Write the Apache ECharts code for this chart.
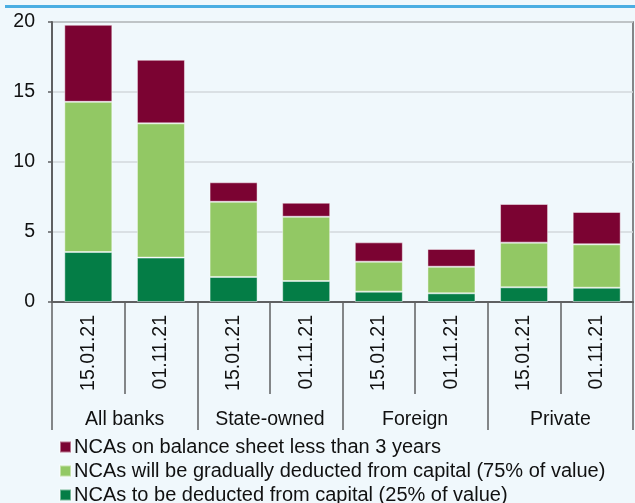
<!DOCTYPE html>
<html>
<head>
<meta charset="utf-8">
<script src="https://cdn.jsdelivr.net/npm/echarts@6/dist/echarts.min.js"></script>
<style>
  html, body { margin: 0; padding: 0; background: #F0F8FC; }
  #chart { width: 635px; height: 503px; }
</style>
</head>
<body>
<div id="chart"></div>
<script>
// Net capital adjustments (NCAs) by bank group, two reporting dates
const dates = ['15.01.21', '01.11.21', '15.01.21', '01.11.21', '15.01.21', '01.11.21', '15.01.21', '01.11.21'];
const groups = ['All banks', 'State-owned', 'Foreign', 'Private'];
const yTicks = [0, 5, 10, 15, 20];

const deductedNow = [3.57, 3.17, 1.79, 1.50, 0.74, 0.62, 1.05, 1.02];
const deductedGradually = [10.73, 9.59, 5.37, 4.59, 2.14, 1.90, 3.19, 3.10];
const underThreeYears = [5.50, 4.54, 1.39, 1.00, 1.38, 1.27, 2.76, 2.31];

const seriesNames = {
  red: 'NCAs on balance sheet less than 3 years',
  light: 'NCAs will be gradually deducted from capital (75% of value)',
  dark: 'NCAs to be deducted from capital (25% of value)'
};

const FONT = '"Liberation Sans", Arial, sans-serif';
const AXIS_COLOR = '#5f6062';
const LEGEND_TOP = 437;
const LEGEND_ROW = 24;

const chart = echarts.init(document.getElementById('chart'), null, { renderer: 'canvas' });

function barSeries(name, data, color) {
  return {
    name: name,
    type: 'bar',
    stack: 'nca',
    xAxisIndex: 0,
    barWidth: 48,
    data: data,
    itemStyle: { color: color, borderColor: 'rgba(255,255,255,0.45)', borderWidth: 1 },
    emphasis: { disabled: true }
  };
}

// one legend block per row so the list stacks without wrapping into columns
const legendOrder = [seriesNames.red, seriesNames.light, seriesNames.dark];
const legends = legendOrder.map((name, i) => ({
  orient: 'horizontal',
  left: 59, top: LEGEND_TOP + i * LEGEND_ROW,
  padding: 0,
  itemWidth: 11, itemHeight: 11,
  icon: 'rect',
  selectedMode: false,
  data: [name],
  textStyle: { fontFamily: FONT, fontSize: 20, color: '#111', padding: [0, 0, 0, -2] }
}));

chart.setOption({
  backgroundColor: '#F0F8FC',
  animation: false,
  textStyle: { fontFamily: FONT },
  grid: {
    left: 52, right: 2, top: 22, bottom: 201,
    show: true, borderColor: AXIS_COLOR, borderWidth: 1.5, backgroundColor: 'transparent'
  },
  graphic: [{
    type: 'rect',
    shape: { x: 5, y: 5, width: 630, height: 3 },
    style: { fill: '#4BAEE2' }
  }],
  legend: legends,
  xAxis: [
    {
      type: 'category',
      data: dates,
      position: 'bottom',
      axisLine: { show: true, lineStyle: { color: AXIS_COLOR, width: 2 } },
      axisTick: { show: true, interval: 0, length: 92, lineStyle: { color: AXIS_COLOR, width: 1.5 } },
      axisLabel: { interval: 0, rotate: 90, margin: 13, fontSize: 19.5, color: '#111', fontFamily: FONT }
    },
    {
      type: 'category',
      data: groups,
      position: 'bottom',
      axisLine: { show: false },
      axisTick: { show: true, interval: 0, length: 128, lineStyle: { color: AXIS_COLOR, width: 1.5 } },
      axisLabel: { interval: 0, margin: 108, fontSize: 19.5, color: '#111', fontFamily: FONT }
    }
  ],
  yAxis: {
    type: 'value',
    min: yTicks[0], max: yTicks[yTicks.length - 1], interval: 5,
    axisLine: { show: true, lineStyle: { color: AXIS_COLOR, width: 2 } },
    axisTick: { show: true, length: 4, lineStyle: { color: AXIS_COLOR, width: 1.5 } },
    axisLabel: { margin: 17, fontSize: 19.5, color: '#111', fontFamily: FONT },
    splitLine: { lineStyle: { color: '#d3d9dc', width: 1.5 } }
  },
  series: [
    barSeries(seriesNames.dark, deductedNow, '#047D46'),
    barSeries(seriesNames.light, deductedGradually, '#92C864'),
    barSeries(seriesNames.red, underThreeYears, '#7B0332')
  ]
});
</script>
</body>
</html>
